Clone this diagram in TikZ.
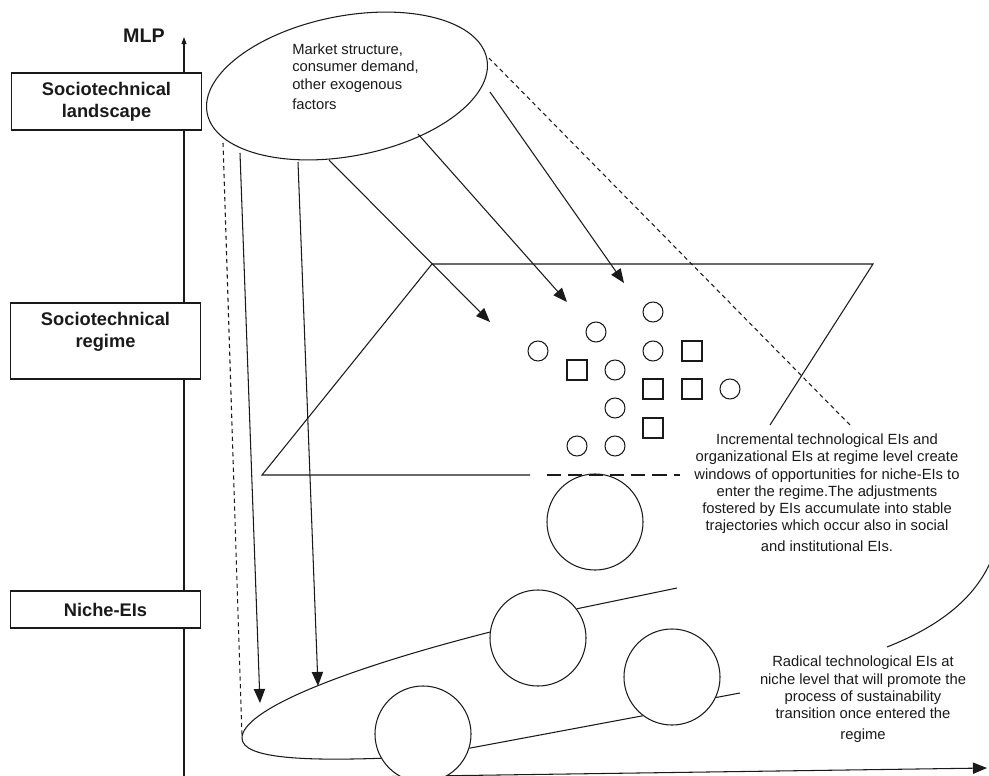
\documentclass[tikz,border=0pt]{standalone}
\usepackage{fontspec}
\setmainfont{Liberation Sans}
\usepackage{tikz}
\usetikzlibrary{arrows.meta,positioning,shapes.geometric}
\definecolor{MLInk}{HTML}{1A1A1A}
\tikzset{
  thinline/.style={draw=MLInk,line width=0.75pt},
  dotline/.style={thinline,dash pattern=on 3pt off 2.5pt},
  pressure/.style={thinline,-{Triangle[length=10pt,width=8pt]}},
  lvlbox/.style={draw=MLInk,fill=white,line width=0.9pt,minimum width=4.75cm,inner sep=0pt},
  lvltext/.style={font=\fontsize{13}{15.6}\selectfont\bfseries,align=center,text=MLInk},
  smalltext/.style={font=\fontsize{10.5}{12.1}\selectfont,text=MLInk,inner sep=0pt},
  elt/.style={thinline,circle,minimum size=0.5cm,inner sep=0pt},
  eltsq/.style={thinline,rectangle,minimum size=0.5cm,inner sep=0pt},
  bigelt/.style={thinline,fill=white,circle,minimum size=2.4cm,inner sep=0pt},
}

\begin{document}
\begin{tikzpicture}[x=0.025cm,y=-0.025cm]
    \clip (0,0) rectangle (989,776);
    \fill[white] (0,0) rectangle (989,776);
    \draw[thinline,-{Triangle[length=5pt,width=3.5pt]}] (184,790) -- (184,37);
    \draw[thinline,-{Triangle[length=10pt,width=8pt]}] (184,779.5) -- (987,768);
    \node[font=\fontsize{14}{16}\selectfont\bfseries,text=MLInk] (mlp) at (144,36) {MLP};
    \node[lvlbox,lvltext,minimum height=1.425cm] (lsbox) at (106.5,101.5) {Sociotechnical\\landscape};
    \node[lvlbox,minimum height=1.9cm] (rgbox) at (105.5,341) {};
    \node[lvltext,inner sep=0pt,below=0.25cm of rgbox.north] (rgtxt) {Sociotechnical\\regime};
    \node[lvlbox,lvltext,minimum height=0.925cm] (nebox) at (105.5,609.5) {Niche-EIs};
    \node[thinline,ellipse,minimum width=7.12cm,minimum height=3.5cm,rotate=11,inner sep=0pt] (land) at (347,86) {};
    \node[smalltext,anchor=north west,align=left] (landtxt) at (292,44) {Market structure,\\consumer demand,\\other exogenous\\[2.5pt]factors};
    \coordinate (rA) at (262,475);
    \coordinate (rB) at (432,264);
    \coordinate (rC) at (873,264);
    \coordinate (rD) at (770,425);
    \coordinate (rE) at (530,475);
    \coordinate (rF) at (547,475);
    \coordinate (rG) at (680,475);
    \draw[thinline] (rD) -- (rC) -- (rB) -- (rA) -- (rE);
    \draw[thinline,dash pattern=on 10pt off 5pt] (rF) -- (rG);
    \coordinate (lE) at (489,58);
    \coordinate (tE) at (850,425);
    \draw[dotline] (lE) -- (tE);
    \foreach \x/\y [count=\i] in {653/312,596/332,538/351,653/351,615/370,730/389,615/408,577/446,615/446}
      \node[elt] (ic\i) at (\x,\y) {};
    \foreach \x/\y [count=\i] in {577/370,692/351,653/389,692/389,653/428}
      \node[eltsq] (is\i) at (\x,\y) {};
    \node[bigelt,fill=none] (nr) at (595,522) {};
    \node[bigelt] (n1) at (538,638) {};
    \node[bigelt] (n2) at (423,734) {};
    \node[bigelt] (n3) at (672,677) {};
    \coordinate (tip) at (242,738);
    \coordinate (up) at (677,588);
    \coordinate (lo) at (740,693);
    \draw[thinline] (tip) .. controls (242,712) and (330,673) .. (n1.173);
    \draw[thinline] (n1.37) -- (up);
    \draw[thinline] (tip) .. controls (242,758) and (300,761) .. (n2.210);
    \draw[thinline] (n2.-17) -- (n3.233);
    \draw[thinline] (n3.-25) -- (lo);
    \coordinate (rt1) at (887,647);
    \coordinate (rt2) at (990,563);
    \draw[thinline] (rt1) .. controls (935,628) and (972,602) .. (rt2);
    \coordinate (s0) at (223,143);
    \draw[dotline] (s0) -- (tip);
    \coordinate (s1) at (240,153);
    \coordinate (e1) at (260,703);
    \coordinate (s2) at (298,162);
    \coordinate (e2) at (318,686);
    \coordinate (s3) at (329,160);
    \coordinate (e3) at (490,322);
    \coordinate (s4) at (418,134);
    \coordinate (e4) at (567,302);
    \coordinate (s5) at (490,92);
    \coordinate (e5) at (624,283);
    \foreach \i in {1,...,5}
      \draw[pressure] (s\i) -- (e\i);
    \node[smalltext,align=center,anchor=north] (inctxt) at (827,434) {Incremental technological EIs and\\organizational EIs at regime level create\\windows of opportunities for niche-EIs to\\enter the regime.The adjustments\\fostered by EIs accumulate into stable\\trajectories which occur also in social\\[3pt]and institutional EIs.};
    \node[smalltext,align=center,anchor=north] (radtxt) at (863,656) {Radical technological EIs at\\niche level that will promote the\\process of sustainability\\transition once entered the\\[3pt]regime};
  \end{tikzpicture}
\end{document}
